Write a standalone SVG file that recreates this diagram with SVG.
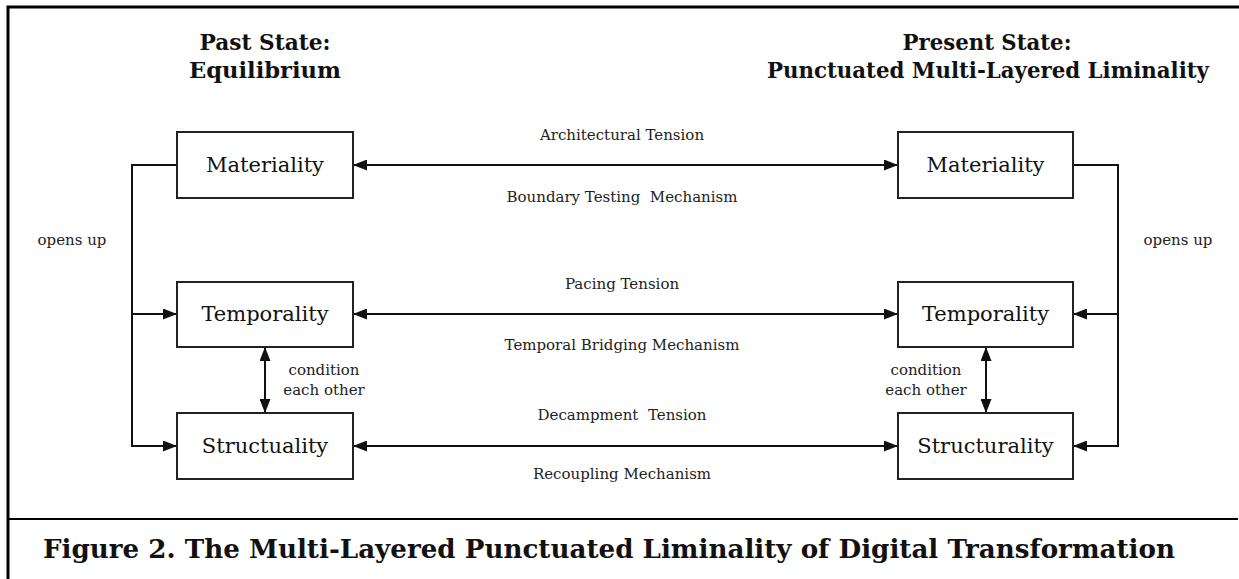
<svg xmlns="http://www.w3.org/2000/svg" width="1239" height="579" viewBox="0 0 1239 579">
<style>
.box{fill:#fff;stroke:#222;stroke-width:2}
.ln{fill:none;stroke:#111;stroke-width:2}
.lbl{font-family:"DejaVu Serif","Liberation Serif",serif;font-size:21px;fill:#111;text-anchor:middle}
.sm{font-family:"DejaVu Serif","Liberation Serif",serif;font-size:15px;fill:#222;text-anchor:middle}
.hd{font-family:"DejaVu Serif","Liberation Serif",serif;font-size:22px;font-weight:bold;fill:#111;text-anchor:middle}
.cap{font-family:"DejaVu Serif","Liberation Serif",serif;font-size:26px;font-weight:bold;fill:#111;text-anchor:middle}
</style>
<defs>
<marker id="ah" viewBox="0 0 14 11" refX="14" refY="5.5" markerWidth="14" markerHeight="11" markerUnits="userSpaceOnUse" orient="auto-start-reverse">
<path d="M0,0 L14,5.5 L0,11 z" fill="#111"/>
</marker>
</defs>
<rect width="1239" height="579" fill="#fff"/>
<g id="frame">
<path d="M8,579 L8,7 L1239,7" fill="none" stroke="#000" stroke-width="3"/>
<line x1="8" y1="519" x2="1238" y2="519" stroke="#000" stroke-width="2"/>
</g>
<g id="headers">
<text class="hd" x="265" y="50" textLength="131" lengthAdjust="spacingAndGlyphs">Past State:</text>
<text class="hd" x="265" y="78" textLength="152" lengthAdjust="spacingAndGlyphs">Equilibrium</text>
<text class="hd" x="987" y="50" textLength="169" lengthAdjust="spacingAndGlyphs">Present State:</text>
<text class="hd" x="988" y="78" textLength="442" lengthAdjust="spacingAndGlyphs">Punctuated Multi-Layered Liminality</text>
</g>
<g id="connectors">
<line class="ln" x1="353" y1="165" x2="898" y2="165" marker-start="url(#ah)" marker-end="url(#ah)"/>
<line class="ln" x1="353" y1="314" x2="898" y2="314" marker-start="url(#ah)" marker-end="url(#ah)"/>
<line class="ln" x1="353" y1="446" x2="898" y2="446" marker-start="url(#ah)" marker-end="url(#ah)"/>
<path class="ln" d="M177,165 L132,165 L132,446 L177,446" marker-end="url(#ah)"/>
<line class="ln" x1="132" y1="314" x2="177" y2="314" marker-end="url(#ah)"/>
<path class="ln" d="M1073,165 L1118,165 L1118,446 L1073,446" marker-end="url(#ah)"/>
<line class="ln" x1="1118" y1="314" x2="1073" y2="314" marker-end="url(#ah)"/>
<line class="ln" x1="265" y1="347" x2="265" y2="413" marker-start="url(#ah)" marker-end="url(#ah)"/>
<line class="ln" x1="986" y1="347" x2="986" y2="413" marker-start="url(#ah)" marker-end="url(#ah)"/>
</g>
<g id="connector-labels">
<text class="sm" x="622" y="140">Architectural Tension</text>
<text class="sm" x="622" y="202" xml:space="preserve">Boundary Testing  Mechanism</text>
<text class="sm" x="622" y="289">Pacing Tension</text>
<text class="sm" x="622" y="350">Temporal Bridging Mechanism</text>
<text class="sm" x="622" y="420" xml:space="preserve">Decampment  Tension</text>
<text class="sm" x="622" y="479">Recoupling Mechanism</text>
<text class="sm" x="72" y="245">opens up</text>
<text class="sm" x="1178" y="245">opens up</text>
<text class="sm" x="324" y="375">condition</text>
<text class="sm" x="324" y="395">each other</text>
<text class="sm" x="926" y="375">condition</text>
<text class="sm" x="926" y="395">each other</text>
</g>
<g id="past-materiality"><rect class="box" x="177" y="132" width="176" height="66"/><text class="lbl" x="265" y="172">Materiality</text></g>
<g id="past-temporality"><rect class="box" x="177" y="282" width="176" height="65"/><text class="lbl" x="265" y="321">Temporality</text></g>
<g id="past-structuality"><rect class="box" x="177" y="413" width="176" height="66"/><text class="lbl" x="265" y="453">Structuality</text></g>
<g id="present-materiality"><rect class="box" x="898" y="132" width="175" height="66"/><text class="lbl" x="985.5" y="172">Materiality</text></g>
<g id="present-temporality"><rect class="box" x="898" y="282" width="175" height="65"/><text class="lbl" x="985.5" y="321">Temporality</text></g>
<g id="present-structurality"><rect class="box" x="898" y="413" width="175" height="66"/><text class="lbl" x="985.5" y="453">Structurality</text></g>
<g id="caption">
<text class="cap" x="609" y="558" textLength="1132" lengthAdjust="spacingAndGlyphs">Figure 2. The Multi-Layered Punctuated Liminality of Digital Transformation</text>
</g>
</svg>
